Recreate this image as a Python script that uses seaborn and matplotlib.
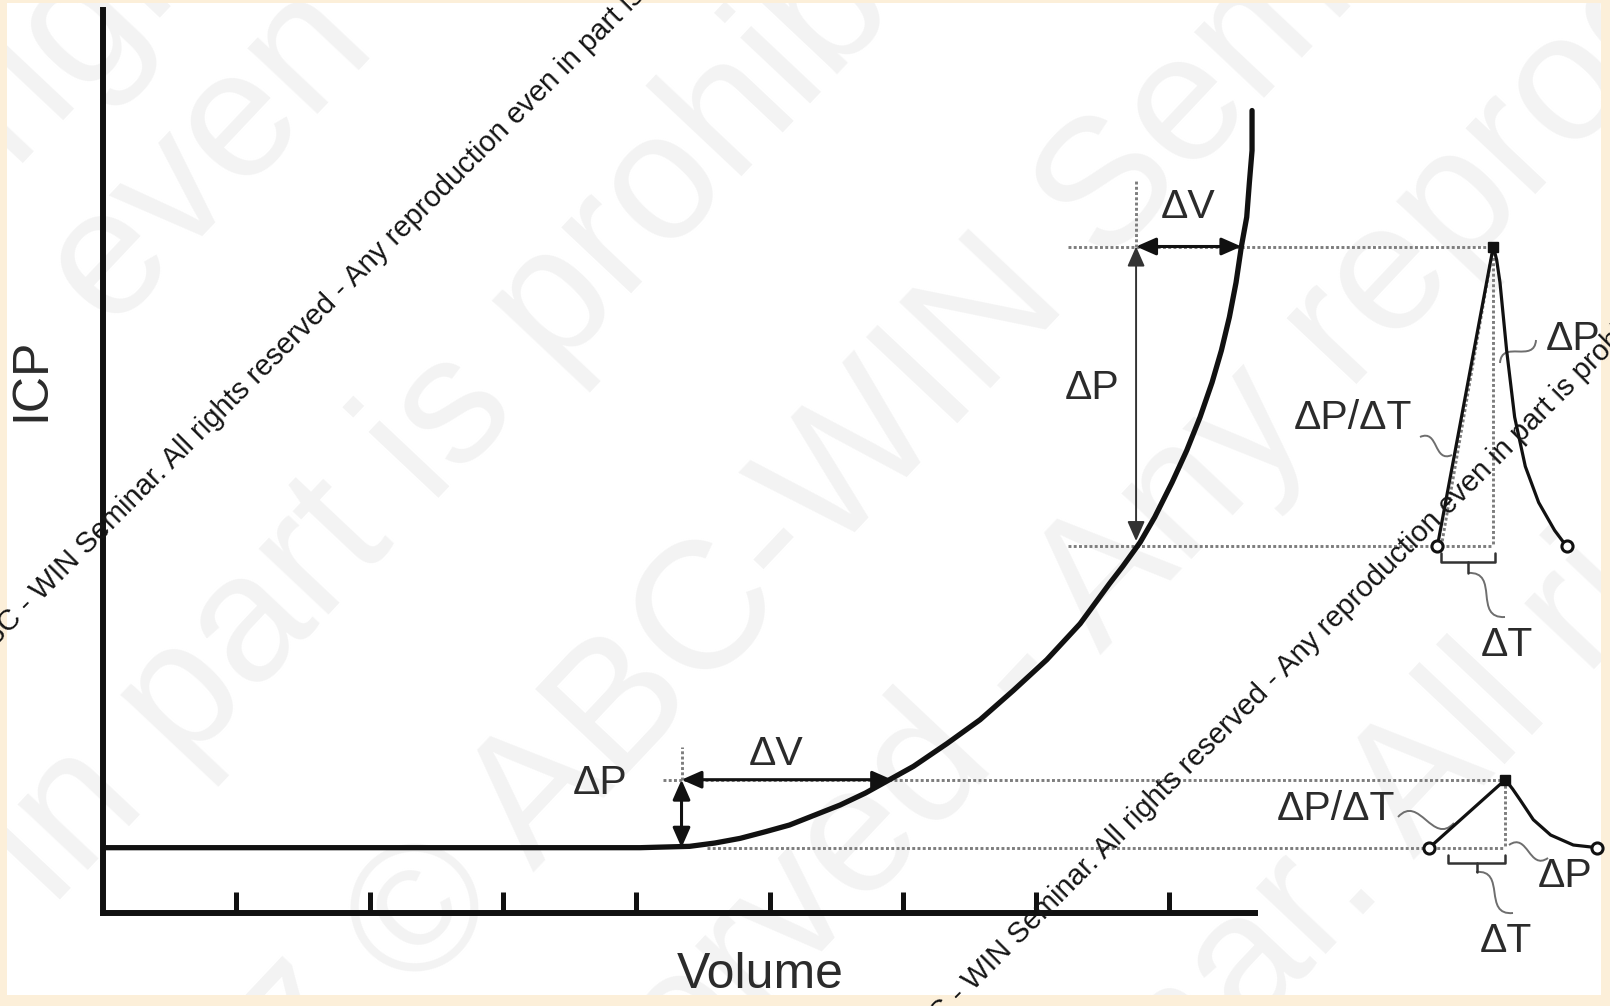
import matplotlib
matplotlib.use("Agg")
import matplotlib.pyplot as plt
from matplotlib.path import Path
from matplotlib.patches import PathPatch, Rectangle
import numpy as np
import seaborn as sns

# ---------------------------------------------------------------------------
# Data: intracranial pressure-volume curve (volume units on x, ICP units on y)
# ---------------------------------------------------------------------------
curve_volume = [0.0, 4.03, 4.40, 4.59, 4.78, 4.97, 5.15, 5.34, 5.53, 5.72, 5.90,
                6.08, 6.33, 6.58, 6.83, 7.08, 7.33, 7.55, 7.65, 7.78, 7.89, 8.02,
                8.13, 8.23, 8.32, 8.39, 8.45, 8.50, 8.54, 8.58, 8.60, 8.62, 8.62]
curve_icp = [0.49, 0.49, 0.50, 0.525, 0.56, 0.61, 0.66, 0.735, 0.81, 0.90, 1.00,
             1.10, 1.27, 1.45, 1.67, 1.90, 2.17, 2.47, 2.60, 2.78, 2.97, 3.23,
             3.47, 3.72, 3.98, 4.22, 4.47, 4.73, 5.00, 5.22, 5.48, 5.72, 6.02]

volume_ticks = [1, 2, 3, 4, 5, 6, 7, 8]

# pressure levels and volume steps marked on the curve
low_base, low_top = 0.49, 1.00
high_base, high_top = 2.75, 5.00
dv_low = [4.34, 5.92]
dv_high = [7.75, 8.54]

# ICP pulse waveforms drawn to the right of the curve
pulse_high_t = [10.01, 10.43, 10.455, 10.48, 10.53, 10.59, 10.67, 10.77, 10.89, 10.98]
pulse_high_p = [2.75, 5.00, 4.90, 4.73, 4.22, 3.72, 3.35, 3.08, 2.87, 2.75]
pulse_low_t = [9.95, 10.52, 10.575, 10.63, 10.73, 10.86, 11.03, 11.21]
pulse_low_p = [0.49, 1.00, 0.93, 0.85, 0.70, 0.585, 0.51, 0.49]

# ---------------------------------------------------------------------------
sns.set_theme(style="white")
plt.rcParams["font.family"] = ["Liberation Sans", "DejaVu Sans"]

W, H = 1610, 1006
X0, Y0, S = 103.0, 913.0, 133.3          # origin in pixels, pixels per unit

fig = plt.figure(figsize=(W / 100, H / 100), dpi=100)
fig.patch.set_facecolor("white")
ax = fig.add_axes([X0 / W, (H - Y0) / H, 1152 / W, 903 / H])
ax.set_xlim(0, 1152 / S)
ax.set_ylim(0, 903 / S)
ax.patch.set_alpha(0)


def to_data(xp, yp):
    return (xp - X0) / S, (Y0 - yp) / S


def to_fig(xp, yp):
    return xp / W, 1 - yp / H


INK = "#111111"
TXT = "#2b2b2b"
DOT = "#7d7d7d"

# axes
for side in ["top", "right"]:
    ax.spines[side].set_visible(False)
for side in ["left", "bottom"]:
    ax.spines[side].set_linewidth(4.3)
    ax.spines[side].set_color(INK)
    ax.spines[side].set_capstyle("projecting")
ax.set_xticks(volume_ticks)
ax.set_yticks([])
ax.tick_params(axis="x", direction="in", length=15, width=3.6, color=INK,
               bottom=True, labelbottom=False)

# main pressure-volume curve
sns.lineplot(x=curve_volume, y=curve_icp, ax=ax, color=INK, linewidth=3.8,
             sort=False, estimator=None)

# pulse waveforms
sns.lineplot(x=pulse_high_t, y=pulse_high_p, ax=ax, color=INK, linewidth=2.3,
             sort=False, estimator=None)
sns.lineplot(x=pulse_low_t, y=pulse_low_p, ax=ax, color=INK, linewidth=2.3,
             sort=False, estimator=None)
for ln in ax.lines:
    ln.set_clip_on(False)
    ln.set_solid_capstyle("round")
    ln.set_solid_joinstyle("round")

# dotted reference lines
dot_kw = dict(color=DOT, linewidth=2.1, linestyle=(0, (1.0, 0.8)), clip_on=False, zorder=1)
ax.plot([4.20, pulse_low_t[1]], [low_top, low_top], **dot_kw)
ax.plot([4.53, pulse_low_t[1]], [low_base, low_base], **dot_kw)
ax.plot([7.24, pulse_high_t[1]], [high_top, high_top], **dot_kw)
ax.plot([7.24, pulse_high_t[1]], [high_base, high_base], **dot_kw)
ax.plot([dv_high[0], dv_high[0]], [high_top, 5.51], **dot_kw)
ax.plot([dv_low[0], dv_low[0]], [low_top, 1.245], **dot_kw)
ax.plot([pulse_high_t[1], pulse_high_t[1]], [high_top, high_base], **dot_kw)
ax.plot([pulse_low_t[1], pulse_low_t[1]], [low_top, low_base], **dot_kw)
ax.plot([pulse_high_t[0] + 0.03, pulse_high_t[1]], [high_base, high_top], **dot_kw)

# arrows
def double_arrow(p0, p1, lw=2.2, color=INK):
    ax.annotate("", xy=p1, xytext=p0, annotation_clip=False,
                arrowprops=dict(arrowstyle="<|-|>,head_length=0.5,head_width=0.22",
                                mutation_scale=24, lw=lw, color=color,
                                shrinkA=0, shrinkB=0))

double_arrow((dv_high[0], high_top), (dv_high[1], high_top))
double_arrow((dv_high[0], high_top), (dv_high[0], high_base + 0.04), lw=1.4, color="#333333")
double_arrow((dv_low[0], low_top), (dv_low[1], low_top))
double_arrow((dv_low[0], low_top), (dv_low[0], low_base))

# pulse markers
ax.plot(pulse_high_t[1], pulse_high_p[1], marker="s", ms=7, color=INK, clip_on=False, zorder=5)
ax.plot(pulse_low_t[1], pulse_low_p[1], marker="s", ms=7, color=INK, clip_on=False, zorder=5)
for tx, py in [(pulse_high_t[0], pulse_high_p[0]), (pulse_high_t[-1], pulse_high_p[-1]),
               (pulse_low_t[0], pulse_low_p[0]), (pulse_low_t[-1], pulse_low_p[-1])]:
    ax.plot(tx, py, marker="o", ms=8, mfc="white", mec=INK, mew=2.2, clip_on=False, zorder=5)

# time brackets under the pulses
def bracket(x0, x1, y, up, down):
    xm = (x0 + x1) / 2
    ax.plot([x0, x0, x1, x1], [y + up, y, y, y + up], color="#333333", lw=1.8, clip_on=False)
    ax.plot([xm, xm], [y, y - down], color="#333333", lw=1.8, clip_on=False)

bracket(10.04, 10.44, 2.63, 0.07, 0.08)
bracket(10.09, 10.52, 0.375, 0.06, 0.07)

# wavy leader lines
def squiggle(p0, p1, amp=0.45):
    a = np.array(to_data(*p0))
    b = np.array(to_data(*p1))
    d = b - a
    nrm = np.array([-d[1], d[0]]) * amp
    verts = [a, a + d / 3 + nrm, a + 2 * d / 3 - nrm, b]
    path = Path(verts, [Path.MOVETO, Path.CURVE4, Path.CURVE4, Path.CURVE4])
    ax.add_patch(PathPatch(path, fc="none", ec="#6e6e6e", lw=1.4, clip_on=False))

squiggle((1420, 437), (1452, 455))
squiggle((1536, 340), (1500, 363))
squiggle((1468, 573), (1505, 617))
squiggle((1398, 817), (1454, 823))
squiggle((1509, 845), (1548, 858))
squiggle((1476, 872), (1513, 913))

# labels
def label(s, xp, yp, size=29.5, **kw):
    x, y = to_data(xp, yp)
    ax.text(x, y, s, fontsize=size, color=TXT, ha="center", va="center",
            clip_on=False, **kw)

label("ICP", 31, 379, size=36, rotation=90)
label("Volume", 760, 975, size=36)
label("ΔV", 1188, 207)
label("ΔP", 1092, 388)
label("ΔP/ΔT", 1353, 418)
label("ΔP", 1573, 339)
label("ΔT", 1507, 645)
label("ΔV", 776, 754)
label("ΔP", 600, 783)
label("ΔP/ΔT", 1336, 809)
label("ΔP", 1565, 876)
label("ΔT", 1506, 941)

# faint copyright watermark in the background
wm_big = [("rights", 128, -30), ("even", 208, 154), ("in part is prohibited", 541, 321),
          ("2017 © ABC-WIN Seminar.", 815, 506), ("reserved - Any reproduction", 1243, 437),
          ("Seminar. All rights", 1360, 850)]
for s, xp, yp in wm_big:
    fig.text(*to_fig(xp, yp), s, fontsize=130, color="#f3f3f3", rotation=46.7,
             rotation_mode="anchor", ha="center", va="center", zorder=-5)

wm_line = "ABC - WIN Seminar. All rights reserved - Any reproduction even in part is prohibited"
for xp, yp in [(-19, 662), (913, 1052)]:
    fig.text(*to_fig(xp, yp), wm_line, fontsize=21, color="#151515", rotation=45,
             rotation_mode="anchor", ha="left", va="baseline", zorder=10)

# cream frame around the picture
frame = "#fcefd9"
for (x, y, w, h) in [(0, 0, 7, H), (W - 9, 0, 9, H), (0, 0, W, 3), (0, H - 11, W, 11)]:
    fig.patches.append(Rectangle((x / W, 1 - (y + h) / H), w / W, h / H,
                                 transform=fig.transFigure, fc=frame, ec="none", zorder=-4))

fig.savefig("out.png", dpi=100)
